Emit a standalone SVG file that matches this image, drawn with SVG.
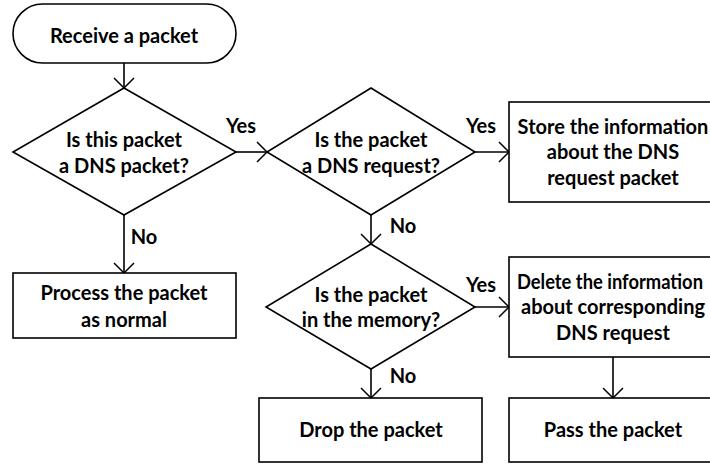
<svg xmlns="http://www.w3.org/2000/svg" width="710" height="464" viewBox="0 0 710 464">
<defs>
<marker id="arr" viewBox="-12 -12 14 24" markerWidth="14" markerHeight="24" refX="0" refY="0" orient="auto" markerUnits="userSpaceOnUse">
<path d="M-10,-10 L0,0 L-10,10" fill="none" stroke="#000" stroke-width="1.5"/>
</marker>
</defs>
<style>
.s{fill:#fff;stroke:#000;stroke-width:1.6}
.t{font-family:Lato,"Liberation Sans",sans-serif;font-weight:bold;font-size:20px;fill:#000;text-anchor:middle}
.l{font-family:Lato,"Liberation Sans",sans-serif;font-weight:bold;font-size:20px;fill:#000;text-anchor:middle}
.c{fill:none;stroke:#000;stroke-width:1.6;marker-end:url(#arr)}
</style>
<rect width="710" height="464" fill="#fff"/>
<g id="connectors">
<path class="c" d="M124,63 V88"/>
<path class="c" d="M236,152 H267"/>
<path class="c" d="M475,152 H509"/>
<path class="c" d="M124,215 V273"/>
<path class="c" d="M371,215 V244"/>
<path class="c" d="M475,307 H509"/>
<path class="c" d="M371,369 V398"/>
<path class="c" d="M613,357 V398"/>
<text class="l" x="241" y="133">Yes</text>
<text class="l" x="481" y="133">Yes</text>
<text class="l" x="481" y="292">Yes</text>
<text class="l" x="144" y="244">No</text>
<text class="l" x="403" y="233">No</text>
<text class="l" x="403" y="383">No</text>
</g>
<g id="start">
<rect class="s" x="13" y="4" width="223" height="59" rx="29.5" ry="29.5"/>
<text class="t" x="124" y="43">Receive a packet</text>
</g>
<g id="d1">
<polygon class="s" points="124,88 236,152 124,215 13,152"/>
<text class="t" x="124" y="147">Is this packet</text>
<text class="t" x="124" y="173">a DNS packet?</text>
</g>
<g id="d2">
<polygon class="s" points="371,88 475,152 371,215 267,152"/>
<text class="t" x="371" y="147">Is the packet</text>
<text class="t" x="371" y="173">a DNS request?</text>
</g>
<g id="store">
<rect class="s" x="509" y="102" width="223" height="100"/>
<text class="t" x="613" y="134">Store the information</text>
<text class="t" x="613" y="159">about the DNS</text>
<text class="t" x="613" y="185">request packet</text>
</g>
<g id="process">
<rect class="s" x="13" y="273" width="223" height="65"/>
<text class="t" x="124" y="300">Process the packet</text>
<text class="t" x="124" y="327">as normal</text>
</g>
<g id="d3">
<polygon class="s" points="371,244 475,307 371,369 266,307"/>
<text class="t" x="371" y="302">Is the packet</text>
<text class="t" x="371" y="327">in the memory?</text>
</g>
<g id="delete">
<rect class="s" x="509" y="257" width="223" height="100"/>
<text class="t" x="610" y="289" textLength="186" lengthAdjust="spacingAndGlyphs">Delete the information</text>
<text class="t" x="613" y="314">about corresponding</text>
<text class="t" x="613" y="340">DNS request</text>
</g>
<g id="drop">
<rect class="s" x="259" y="398" width="223" height="64"/>
<text class="t" x="371" y="437">Drop the packet</text>
</g>
<g id="pass">
<rect class="s" x="509" y="398" width="223" height="64"/>
<text class="t" x="613" y="437">Pass the packet</text>
</g>
</svg>
